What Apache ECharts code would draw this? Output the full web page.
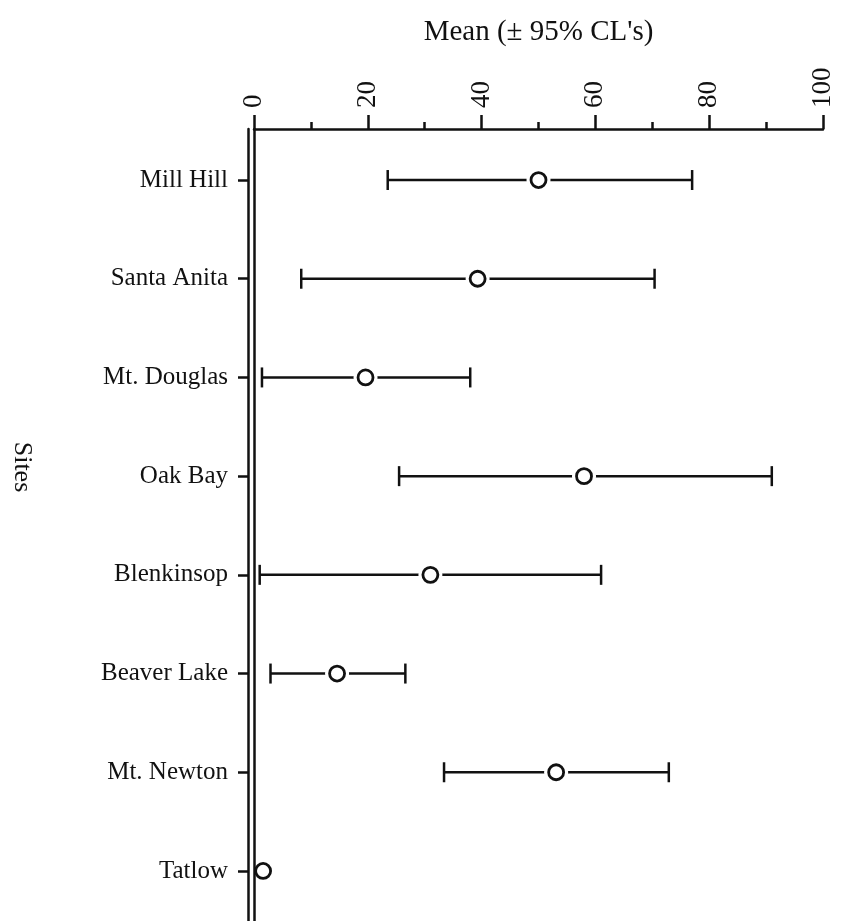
<!DOCTYPE html>
<html>
<head>
<meta charset="utf-8">
<script src="https://cdn.jsdelivr.net/npm/echarts@6/dist/echarts.min.js"></script>
<style>
html,body{margin:0;padding:0;background:#fff;}
#chart{width:849px;height:921px;}
</style>
</head>
<body>
<div id="chart"></div>
<script>
const sites = ['Mill Hill','Santa Anita','Mt. Douglas','Oak Bay','Blenkinsop','Beaver Lake','Mt. Newton','Tatlow'];
const means = [50, 39.3, 19.6, 58, 31, 14.6, 53.1, 1.6];
const lower = [23.5, 8.3, 1.4, 25.5, 1, 2.9, 33.4, 1.6];
const upper = [77, 70.4, 38, 91, 61, 26.6, 72.9, 1.6];
const xTickLabels = [0, 20, 40, 60, 80, 100];
const xTitle = "Mean (\u00b1 95% CL's)";
const yTitle = 'Sites';

const FONT = '"Liberation Serif", "Times New Roman", serif';
const INK = '#111';
const siteIdx = sites.map((s, i) => i);
const barData = sites.map((s, i) => [lower[i], i, upper[i], means[i]]);

const chart = echarts.init(document.getElementById('chart'), null, {renderer: 'canvas'});
chart.setOption({
  backgroundColor: '#fff',
  animation: false,
  grid: {left: 254, right: 26, top: 129, bottom: 0, containLabel: false},
  xAxis: {
    type: 'value', position: 'top', min: 0, max: 100, interval: 20,
    name: xTitle, nameLocation: 'middle', nameGap: 82,
    nameTextStyle: {fontFamily: FONT, fontSize: 29, color: INK},
    axisLine: {show: true, onZero: false, lineStyle: {color: INK, width: 2.5}},
    axisTick: {show: true, length: 14, lineStyle: {color: INK, width: 2.5}},
    minorTick: {show: true, splitNumber: 2, length: 7, lineStyle: {color: INK, width: 2.5}},
    splitLine: {show: false}, minorSplitLine: {show: false},
    axisLabel: {
      rotate: -90, margin: 21, fontFamily: FONT, fontSize: 27, color: INK,
      formatter: v => xTickLabels.includes(v) ? String(v) : ''
    }
  },
  yAxis: [
    {
      type: 'value', inverse: true, min: -0.517, max: 7.507, position: 'left', offset: 0,
      axisLine: {show: true, onZero: false, lineStyle: {color: INK, width: 2.5}},
      axisTick: {show: false}, axisLabel: {show: false}, splitLine: {show: false}
    },
    {
      type: 'value', inverse: true, min: -0.517, max: 7.507, position: 'left', offset: 6,
      axisLine: {show: true, onZero: false, lineStyle: {color: INK, width: 2.5}},
      axisTick: {show: true, length: 10, customValues: siteIdx, lineStyle: {color: INK, width: 2.5}},
      axisLabel: {
        show: true, customValues: siteIdx, margin: 20, fontFamily: FONT, fontSize: 25, color: INK,
        formatter: v => sites[Math.round(v)]
      },
      splitLine: {show: false}
    }
  ],
  graphic: [{
    type: 'text', x: 22, y: 467, rotation: -Math.PI / 2,
    style: {text: yTitle, fontFamily: FONT, fontSize: 26, fill: INK, align: 'center', verticalAlign: 'middle'}
  }],
  series: [{
    type: 'custom',
    xAxisIndex: 0, yAxisIndex: 0,
    data: barData,
    encode: {x: [0, 2, 3], y: 1},
    renderItem: function (params, api) {
      const yv = api.value(1);
      const lo = api.coord([api.value(0), yv]);
      const hi = api.coord([api.value(2), yv]);
      const m = api.coord([api.value(3), yv]);
      const st = {stroke: INK, lineWidth: 2.5};
      const cap = 10;
      const children = [];
      if (hi[0] - lo[0] > 1) {
        children.push({type: 'line', shape: {x1: lo[0], y1: lo[1], x2: hi[0], y2: hi[1]}, style: st});
        children.push({type: 'line', shape: {x1: lo[0], y1: lo[1] - cap, x2: lo[0], y2: lo[1] + cap}, style: st});
        children.push({type: 'line', shape: {x1: hi[0], y1: hi[1] - cap, x2: hi[0], y2: hi[1] + cap}, style: st});
        children.push({type: 'circle', shape: {cx: m[0], cy: m[1], r: 12}, style: {fill: '#fff'}});
      }
      children.push({type: 'circle', shape: {cx: m[0], cy: m[1], r: 7.5}, style: {fill: '#fff', stroke: INK, lineWidth: 2.8}});
      return {type: 'group', children: children};
    }
  }]
});
</script>
</body>
</html>
